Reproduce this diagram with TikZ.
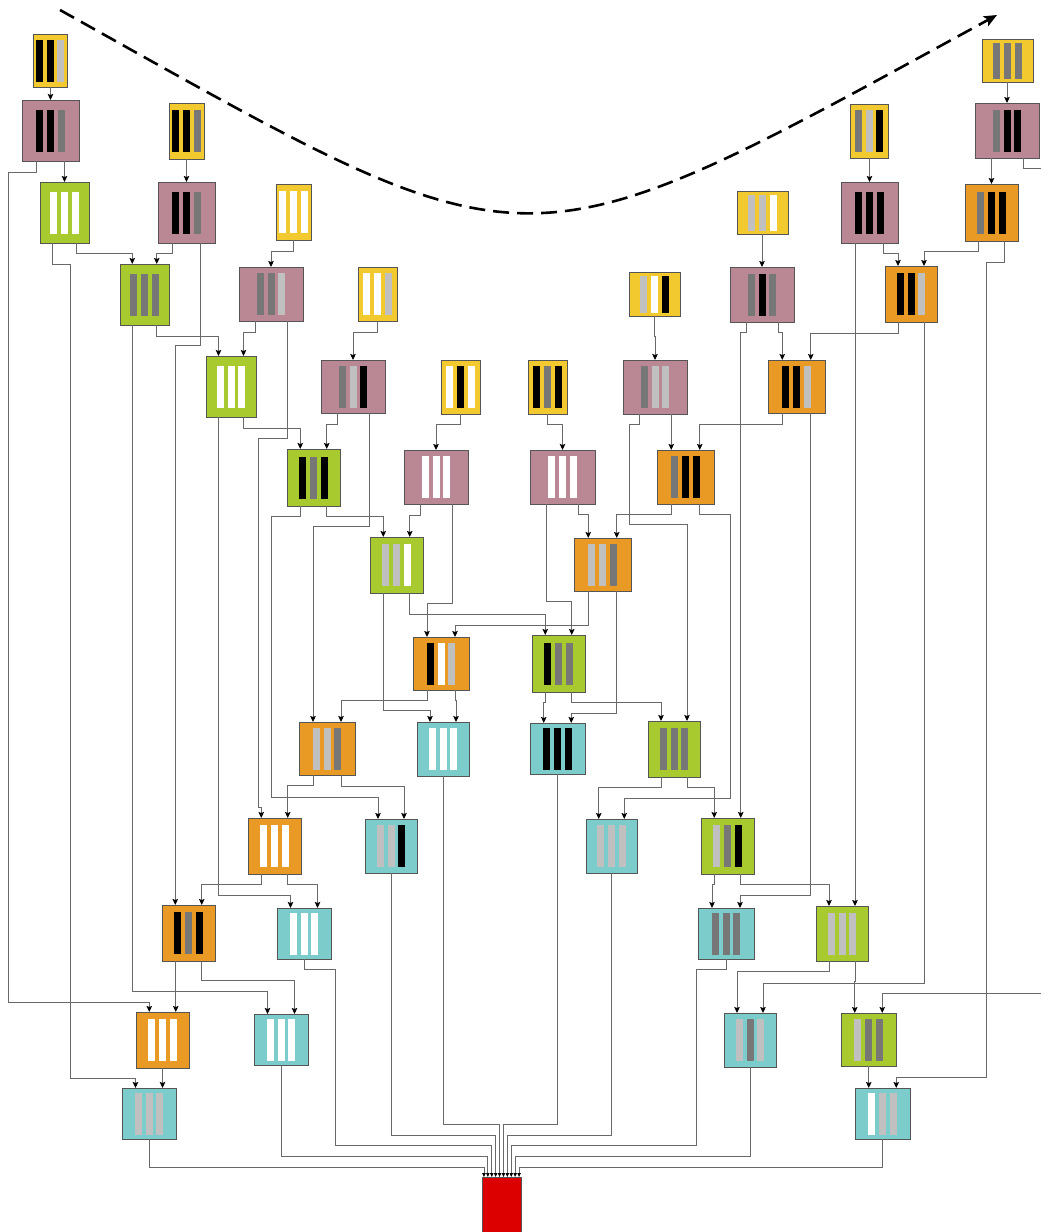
\documentclass[tikz,border=0pt]{standalone}
\usetikzlibrary{arrows.meta,calc}
\definecolor{cY}{RGB}{242,202,48}
\definecolor{cP}{RGB}{186,135,148}
\definecolor{cG}{RGB}{168,202,46}
\definecolor{cO}{RGB}{232,154,37}
\definecolor{cT}{RGB}{124,204,204}
\definecolor{cR}{RGB}{221,0,0}
\definecolor{barD}{RGB}{119,119,119}
\definecolor{barL}{RGB}{192,192,192}
\definecolor{celledge}{RGB}{85,85,85}
\definecolor{conngray}{RGB}{105,105,105}
\tikzset{
  cellbox/.style={rectangle, draw=celledge, line width=1pt, inner sep=0pt, outer sep=0pt},
  conn/.style={draw=conngray, line width=0.9pt, -{Stealth[length=6pt,width=5.5pt,inset=1pt,color=black]}},
  redconn/.style={draw=conngray, line width=0.8pt, -{Triangle[length=4pt,width=3.4pt,color=black]}},
  bigdash/.style={line width=2.6pt, dash pattern=on 16pt off 8pt, -{Stealth[length=13pt,width=11pt,inset=3pt]}},
}
\newcommand\mkcell[9]{%
  \pgfmathsetmacro\mcx{(#2+#4)/2}%
  \pgfmathsetmacro\mcy{(#3+#5)/2}%
  \pgfmathsetmacro\mcw{#4-#2}%
  \pgfmathsetmacro\mch{#5-#3}%
  \pgfmathsetmacro\mbh{min(42,\mch-7)}%
  \node[cellbox, fill=#6, minimum width=\mcw pt, minimum height=\mch pt] (#1) at (\mcx,\mcy) {};%
  \fill[#7] (\mcx-14.2,\mcy-\mbh/2) rectangle ++(7,\mbh);%
  \fill[#8] (\mcx-3.5,\mcy-\mbh/2) rectangle ++(7,\mbh);%
  \fill[#9] (\mcx+7.2,\mcy-\mbh/2) rectangle ++(7,\mbh);%
  \coordinate (#1-il) at ({#2+\mcw/4},#3);%
  \coordinate (#1-ir) at ({#2+3*\mcw/4},#3);%
  \coordinate (#1-ic) at (\mcx,#3);%
  \coordinate (#1-ol) at ({#2+\mcw/4},#5);%
  \coordinate (#1-or) at ({#2+3*\mcw/4},#5);%
  \coordinate (#1-oc) at (\mcx,#5);%
}
\newcommand\etwo[3]{\draw[conn] (#1) -- ++(0,#3) -| (#2);}
\newcommand\efour[5]{\draw[conn] (#1) -- ++(0,#3) -| (#4,#5) -| (#2);}
\begin{document}
\begin{tikzpicture}[x=1pt,y=-1pt]
\useasboundingbox (0,0) rectangle (1041,1232);
\clip (0,0) rectangle (1041,1232);
% cells
\mkcell{Y1}{33}{34}{67}{87}{cY}{black}{black}{barL}
\mkcell{P1}{22}{100}{79}{161}{cP}{black}{black}{barD}
\mkcell{Y2}{169}{103}{204}{159}{cY}{black}{black}{barD}
\mkcell{G1}{40}{182}{89}{243}{cG}{white}{white}{white}
\mkcell{P2}{158}{182}{215}{243}{cP}{black}{black}{barD}
\mkcell{Y3}{276}{184}{311}{240}{cY}{white}{white}{white}
\mkcell{G2}{120}{264}{169}{325}{cG}{barD}{barD}{barD}
\mkcell{P3}{239}{267}{303}{321}{cP}{barD}{barD}{barL}
\mkcell{Y4}{358}{267}{397}{321}{cY}{white}{white}{barL}
\mkcell{G3}{206}{356}{256}{417}{cG}{white}{white}{white}
\mkcell{P4}{321}{360}{385}{413}{cP}{barD}{barL}{black}
\mkcell{Y5}{441}{360}{480}{414}{cY}{white}{black}{white}
\mkcell{Y6}{528}{360}{567}{414}{cY}{black}{barD}{black}
\mkcell{P5}{623}{360}{687}{414}{cP}{barD}{barL}{barL}
\mkcell{O1}{768}{360}{825}{413}{cO}{black}{black}{barL}
\mkcell{G4}{287}{449}{340}{506}{cG}{black}{barD}{black}
\mkcell{P6}{404}{450}{468}{504}{cP}{white}{white}{white}
\mkcell{P7}{530}{450}{595}{504}{cP}{white}{white}{white}
\mkcell{O2}{657}{450}{714}{504}{cO}{barD}{black}{black}
\mkcell{G5}{370}{537}{423}{593}{cG}{barL}{barL}{white}
\mkcell{O3}{574}{538}{631}{591}{cO}{barL}{barL}{barD}
\mkcell{O4}{413}{637}{469}{690}{cO}{black}{white}{barL}
\mkcell{G6}{532}{635}{585}{692}{cG}{black}{barD}{barD}
\mkcell{O5}{299}{722}{355}{775}{cO}{barL}{barL}{barD}
\mkcell{T1}{417}{722}{469}{776}{cT}{white}{white}{white}
\mkcell{T2}{530}{723}{585}{774}{cT}{black}{black}{black}
\mkcell{G7}{648}{721}{700}{777}{cG}{barD}{barD}{barD}
\mkcell{O6}{248}{818}{301}{874}{cO}{white}{white}{white}
\mkcell{T3}{365}{819}{417}{873}{cT}{barL}{barL}{black}
\mkcell{T4}{586}{819}{637}{873}{cT}{barL}{barL}{barL}
\mkcell{G8}{701}{818}{754}{874}{cG}{barL}{barD}{black}
\mkcell{O7}{162}{905}{215}{961}{cO}{black}{barD}{black}
\mkcell{T5}{277}{908}{331}{959}{cT}{white}{white}{white}
\mkcell{T6}{698}{908}{754}{959}{cT}{barD}{barD}{barD}
\mkcell{G9}{816}{906}{868}{961}{cG}{barL}{barL}{barL}
\mkcell{O8}{136}{1012}{189}{1068}{cO}{white}{white}{white}
\mkcell{T7}{254}{1014}{308}{1065}{cT}{white}{white}{white}
\mkcell{T8}{724}{1013}{776}{1067}{cT}{barL}{barD}{barL}
\mkcell{G10}{841}{1013}{896}{1066}{cG}{barL}{barD}{barD}
\mkcell{T9}{122}{1088}{176}{1139}{cT}{barL}{barL}{barL}
\mkcell{T10}{855}{1088}{910}{1139}{cT}{white}{barL}{barL}
\mkcell{Y7}{982}{39}{1033}{82}{cY}{barD}{barD}{barD}
\mkcell{P8}{975}{103}{1039}{158}{cP}{barD}{black}{black}
\mkcell{Y8}{850}{104}{888}{158}{cY}{barD}{barL}{black}
\mkcell{P9}{841}{182}{898}{243}{cP}{black}{black}{black}
\mkcell{O9}{965}{184}{1018}{241}{cO}{barD}{black}{black}
\mkcell{Y9}{737}{191}{788}{234}{cY}{barL}{barL}{white}
\mkcell{O10}{885}{266}{937}{322}{cO}{black}{black}{barL}
\mkcell{P10}{730}{267}{794}{322}{cP}{barD}{black}{barD}
\mkcell{Y10}{629}{272}{680}{316}{cY}{barL}{white}{black}
\node[cellbox, fill=cR, minimum width=39pt, minimum height=70pt] (R) at (501.5,1212) {};
\foreach \i in {1,...,10} {\coordinate (R-p\i) at ({482+3.9*(\i-0.5)},1177);}
% connectors
\etwo{Y1-oc}{P1-ic}{6}
\etwo{Y2-oc}{P2-ic}{10}
\etwo{Y3-oc}{P3-ic}{11}
\etwo{Y4-oc}{P4-ic}{11}
\etwo{Y5-oc}{P6-ic}{10}
\etwo{Y6-oc}{P7-ic}{10}
\etwo{Y10-oc}{P5-ic}{20}
\etwo{Y7-oc}{P8-ic}{10}
\etwo{Y8-oc}{P9-ic}{10}
\etwo{Y9-oc}{P10-ic}{15}
\efour{P1-ol}{O8-il}{11}{8.5}{1002}
\etwo{P1-or}{G1-ic}{10}
\efour{G1-ol}{T9-il}{21}{70.5}{1078}
\etwo{G1-or}{G2-il}{10}
\etwo{P2-ol}{G2-ir}{10}
\etwo{P2-or}{O7-il}{102}
\etwo{G2-ol}{T7-il}{666}
\etwo{G2-or}{G3-il}{11}
\etwo{P3-ol}{G3-ir}{11}
\efour{P3-or}{O6-il}{117}{258}{807}
\etwo{G3-ol}{T5-il}{478}
\etwo{G3-or}{G4-il}{11}
\etwo{P4-ol}{G4-ir}{11}
\etwo{P4-or}{O5-il}{113}
\efour{G4-ol}{T3-il}{10}{271}{797}
\etwo{G4-or}{G5-il}{10}
\etwo{P6-ol}{G5-ir}{11}
\etwo{P6-or}{O4-il}{99}
\etwo{P7-ol}{G6-ir}{97}
\etwo{P7-or}{O3-il}{10}
\efour{P5-ol}{G7-ir}{10}{629}{524}
\etwo{P5-or}{O2-il}{10}
\etwo{O2-ol}{O3-ir}{10}
\efour{O2-or}{T4-ir}{10}{730}{798}
\etwo{O1-ol}{O2-ir}{11}
\etwo{O1-or}{T6-ir}{482}
\etwo{G5-ol}{T1-il}{117}
\etwo{G5-or}{G6-il}{21}
\etwo{O3-ol}{O4-ir}{34}
\etwo{O3-or}{T2-ir}{122}
\etwo{O4-ol}{O5-ir}{10}
\etwo{O4-or}{T1-ir}{10}
\etwo{G6-ol}{T2-il}{10}
\etwo{G6-or}{G7-il}{10}
\etwo{G7-ol}{T4-il}{10}
\etwo{G7-or}{G8-il}{10}
\etwo{O5-ol}{O6-ir}{10}
\etwo{O5-or}{T3-ir}{11}
\etwo{O6-ol}{O7-ir}{10}
\etwo{O6-or}{T5-ir}{10}
\etwo{G8-ol}{T6-il}{10}
\etwo{G8-or}{G9-il}{10}
\etwo{O7-ol}{O8-ir}{20}
\etwo{O7-or}{T7-ir}{19}
\etwo{G9-ol}{T8-il}{10}
\etwo{G9-or}{G10-il}{20}
\etwo{G10-oc}{T10-il}{10}
\etwo{O8-oc}{T9-ir}{10}
\etwo{P8-ol}{O9-ic}{10}
\efour{P8-or}{G10-ir}{10}{1060}{993}
\etwo{P9-ol}{G9-ir}{100}
\etwo{P9-or}{O10-il}{10}
\etwo{O9-ol}{O10-ir}{10}
\efour{O9-or}{T10-ir}{21}{986}{1077}
\etwo{P10-ol}{G8-ir}{10}
\etwo{P10-or}{O1-il}{10}
\etwo{O10-ol}{O1-ir}{11}
\etwo{O10-or}{T8-ir}{661}
% into the red block
\draw[redconn] (T9-oc) -- ++(0,28) -| (R-p1);
\draw[redconn] (T7-oc) -- ++(0,91) -| (R-p2);
\draw[redconn] (T5-oc) -- ++(0,10) -| (335,1145) -| (R-p3);
\draw[redconn] (T3-oc) -- ++(0,262) -| (R-p4);
\draw[redconn] (T1-oc) -- ++(0,348) -| (R-p5);
\draw[redconn] (T2-oc) -- ++(0,350) -| (R-p6);
\draw[redconn] (T4-oc) -- ++(0,262) -| (R-p7);
\draw[redconn] (T6-oc) -- ++(0,10) -| (696,1145) -| (R-p8);
\draw[redconn] (T8-oc) -- ++(0,89) -| (R-p9);
\draw[redconn] (T10-oc) -- ++(0,28) -| (R-p10);
% dashed sweep
\coordinate (dashA) at (60,10);
\coordinate (dashB) at (997,15);
\draw[bigdash] (dashA) .. controls (540,278) and (510,281) .. (dashB);
\end{tikzpicture}
\end{document}
